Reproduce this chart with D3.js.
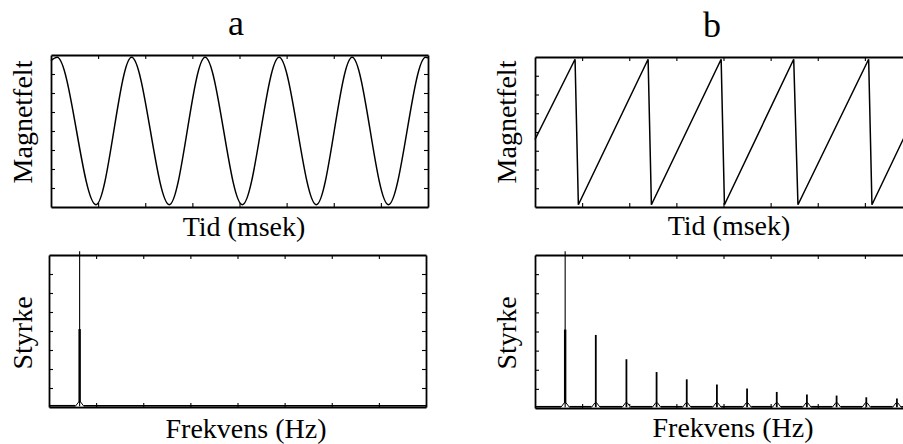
<!DOCTYPE html>
<html><head><meta charset="utf-8">
<script src="https://cdn.jsdelivr.net/npm/d3@7"></script>
<style>
html,body{margin:0;padding:0;background:#fff;}
</style></head>
<body><svg id="chart" width="903" height="444"></svg>
<script>
// ---- data ----
const panelTitles = ["a", "b"];
const timeLabel = "Tid (msek)";
const freqLabel = "Frekvens (Hz)";
const fieldLabel = "Magnetfelt";
const strengthLabel = "Styrke";
const tickValues = [1, 2, 3, 4, 5, 6, 7];

// a: sine wave (time in tick units, value 0..8): extremes
const sineT = [0, 0.13, 0.955, 1.71, 2.51, 3.27, 4.06, 4.84, 5.63, 6.39, 7.16, 7.95, 8.0];
const sineV = [7.7, 7.88, 0.12, 7.88, 0.12, 7.88, 0.12, 7.88, 0.12, 7.88, 0.12, 7.88, 7.85];

// b: sawtooth
const sawT = [0, 0.85, 0.92, 2.40, 2.47, 3.95, 4.02, 5.49, 5.58, 7.08, 7.15, 8.0];
const sawV = [3.6, 7.88, 0.12, 7.88, 0.12, 7.88, 0.12, 7.88, 0.12, 7.88, 0.12, 4.6];

// spectra
const specAFreq = [0.65];
const specAHeight = [8.2];
const specBFreq = [0.64, 1.29, 1.94, 2.58, 3.22, 3.86, 4.50, 5.13, 5.77, 6.40, 7.03, 7.68];
const specBHeight = [8.2, 3.82, 2.55, 1.88, 1.50, 1.23, 1.02, 0.84, 0.71, 0.65, 0.56, 0.50];

// pick an installed serif face if there is one
function pickFont() {
  const cands = ["Liberation Serif", "Tinos", "Times New Roman", "Nimbus Roman", "Nimbus Roman No9 L",
    "FreeSerif", "DejaVu Serif", "Noto Serif", "Noto Serif CJK SC", "Noto Serif CJK JP", "Source Serif Pro",
    "Droid Serif", "Georgia", "Times"];
  const ctx = document.createElement("canvas").getContext("2d");
  const s = "Frekvens (Hz) Magnetfelt Styrke abcdefgWMil";
  const w = f => { ctx.font = "40px " + f; return ctx.measureText(s).width; };
  const wm = w("monospace"), ws = w("sans-serif");
  for (const c of cands) {
    const a = w(`"${c}",monospace`), b = w(`"${c}",sans-serif`);
    if (a !== wm && b !== ws) return `"${c}"`;
    if (a === b && a !== wm) return `"${c}"`;
  }
  return '"Liberation Sans",sans-serif';
}
const FONT = pickFont() + ",serif";
const svg = d3.select("#chart");

function drawFrame(box) {
  const x = d3.scaleLinear().domain([0, 8]).range([box.x0, box.x1]);
  const y = d3.scaleLinear().domain([0, 8]).range([box.y1, box.y0]);
  const g = svg.append("g");
  const mk = (axis, tr) => {
    const a = g.append("g").attr("transform", tr)
      .call(axis.tickValues(tickValues).tickSizeInner(-4).tickSizeOuter(0).tickFormat(""));
    a.select(".domain").attr("stroke", "#000").attr("stroke-width", 1.8);
    a.selectAll(".tick line").attr("stroke", "#000").attr("stroke-width", 1.1);
  };
  mk(d3.axisBottom(x), `translate(0,${box.y1})`);
  mk(d3.axisTop(x), `translate(0,${box.y0})`);
  mk(d3.axisLeft(y), `translate(${box.x0},0)`);
  mk(d3.axisRight(y), `translate(${box.x1},0)`);
  return {x, y, g};
}

function rotLabel(text, bx, cy) {
  svg.append("text").attr("transform", `translate(${bx},${cy}) rotate(-90)`)
    .attr("font-family", FONT).attr("fill", "#000")
    .attr("text-anchor", "middle").attr("font-size", 28).text(text);
}
function hLabel(text, cx, by, size) {
  svg.append("text").attr("x", cx).attr("y", by)
    .attr("font-family", FONT).attr("fill", "#000")
    .attr("text-anchor", "middle").attr("font-size", size).text(text);
}

// titles
hLabel(panelTitles[0], 236, 35, 36);
hLabel(panelTitles[1], 712, 37, 36);

// --- panel a top: sine ---
{
  const f = drawFrame({x0: 51, x1: 428, y0: 55, y1: 207});
  const line = d3.line().x((d, i) => f.x(sineT[i])).y((d, i) => f.y(sineV[i])).curve(d3.curveMonotoneX);
  f.g.append("path").attr("d", line(sineT)).attr("fill", "none").attr("stroke", "#000").attr("stroke-width", 1.5);
  rotLabel(fieldLabel, 32, 122);
  hLabel(timeLabel, 244, 236, 28);
}
// --- panel b top: sawtooth ---
{
  const f = drawFrame({x0: 535, x1: 912, y0: 57, y1: 207});
  const line = d3.line().x((d, i) => f.x(sawT[i])).y((d, i) => f.y(sawV[i]));
  f.g.append("path").attr("d", line(sawT)).attr("fill", "none").attr("stroke", "#000").attr("stroke-width", 1.5);
  rotLabel(fieldLabel, 516, 122);
  hLabel(timeLabel, 729, 235, 28);
}

function drawSpectrum(f, freqs, heights) {
  const base = 0.04;
  freqs.forEach((fr, i) => {
    const h = heights[i];
    const tent = [[fr - 0.09, base], [fr - 0.015, 0.28], [fr + 0.015, 0.28], [fr + 0.09, base]];
    f.g.append("path").attr("d", d3.line().x(d => f.x(d[0])).y(d => f.y(d[1]))(tent))
      .attr("fill", "#fff").attr("stroke", "#000").attr("stroke-width", 1);
    const big = h > 5;
    f.g.append("line").attr("x1", f.x(fr)).attr("x2", f.x(fr))
      .attr("y1", f.y(base)).attr("y2", f.y(h)).attr("stroke", "#000").attr("stroke-width", big ? 1.1 : 1.8);
    if (big) {
      f.g.append("line").attr("x1", f.x(fr)).attr("x2", f.x(fr))
        .attr("y1", f.y(0.25)).attr("y2", f.y(h * 0.5)).attr("stroke", "#000").attr("stroke-width", 2.4);
    }
  });
  const segs = [];
  let start = 0;
  freqs.forEach(fr => { segs.push([start, fr - 0.09]); start = fr + 0.09; });
  segs.push([start, 8]);
  segs.forEach(s => {
    f.g.append("line").attr("x1", f.x(s[0])).attr("x2", f.x(s[1]))
      .attr("y1", f.y(base) - 0.5).attr("y2", f.y(base) - 0.5).attr("stroke", "#000").attr("stroke-width", 1.6);
  });
}

// --- panel a bottom ---
{
  const f = drawFrame({x0: 49, x1: 426, y0: 255, y1: 407});
  drawSpectrum(f, specAFreq, specAHeight);
  rotLabel(strengthLabel, 32, 333);
  hLabel(freqLabel, 246, 438, 28);
}
// --- panel b bottom ---
{
  const f = drawFrame({x0: 535, x1: 912, y0: 255, y1: 408});
  drawSpectrum(f, specBFreq, specBHeight);
  rotLabel(strengthLabel, 516, 333);
  hLabel(freqLabel, 733, 437, 28);
}
</script></body></html>
